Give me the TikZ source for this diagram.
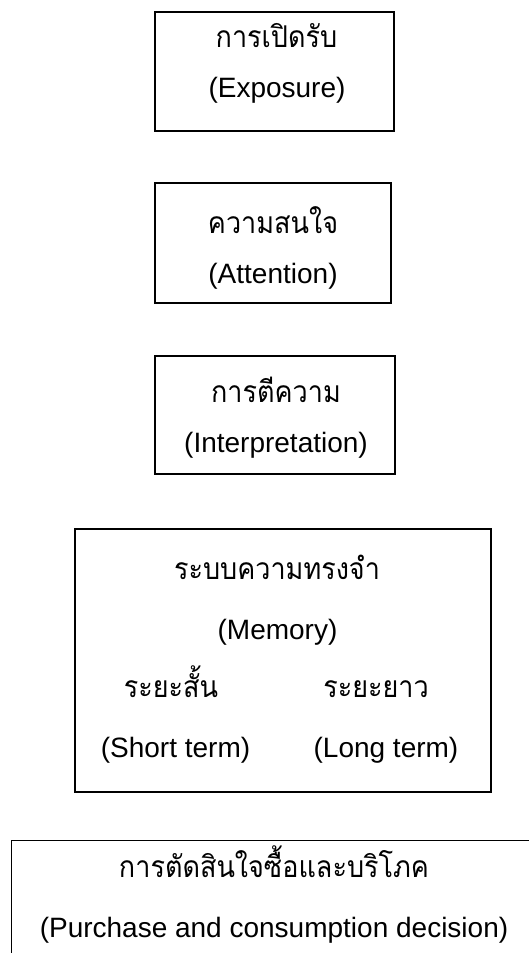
\documentclass[tikz,border=0pt]{standalone}
\usepackage{fontspec}
\setmainfont{Liberation Sans}
\newfontfamily\thaifont[Script=Thai,FakeStretch=0.9]{Loma}
\begin{document}
\begin{tikzpicture}[x=1pt,y=-1pt,
  boxstyle/.style={draw=black,line width=1.1pt,rectangle,inner sep=0pt},
  entext/.style={anchor=base,inner sep=0pt,font=\fontsize{28}{30}\selectfont},
  thtext/.style={anchor=base,inner sep=0pt,font=\thaifont\fontsize{30}{32}\selectfont}]
\useasboundingbox (0,0) rectangle (528,953);
% boxes
\node[boxstyle,minimum width=239pt,minimum height=119pt] (b1) at (274.5,71.5) {};
\node[boxstyle,minimum width=236pt,minimum height=120pt] (b2) at (273,243) {};
\node[boxstyle,minimum width=240pt,minimum height=118pt] (b3) at (275,415) {};
\node[boxstyle,minimum width=416pt,minimum height=263pt] (b4) at (283,660.5) {};
\node[boxstyle,minimum width=560pt,minimum height=180pt] (b5) at (291.5,930.5) {};
% texts
\node[thtext] (t1) at (276.5,47) {การเปิดรับ};
\node[entext] (e1) at (277,97) {(Exposure)};
\node[thtext] (t2) at (273,233) {ความสนใจ};
\node[entext] (e2) at (273,283) {(Attention)};
\node[thtext] (t3) at (276,402) {การตีความ};
\node[entext] (e3) at (276,452) {(Interpretation)};
\node[thtext] (t4) at (277,579) {ระบบความทรงจำ};
\node[entext] (e4) at (277.5,639) {(Memory)};
\node[thtext] (t5) at (171,697) {ระยะสั้น};
\node[entext] (e5) at (175.5,757) {(Short term)};
\node[thtext] (t6) at (376,697) {ระยะยาว};
\node[entext] (e6) at (386,757) {(Long term)};
\node[thtext] (t7) at (274,877) {การตัดสินใจซื้อและบริโภค};
\node[entext] (e7) at (274,937) {(Purchase and consumption decision)};
\end{tikzpicture}
\end{document}
